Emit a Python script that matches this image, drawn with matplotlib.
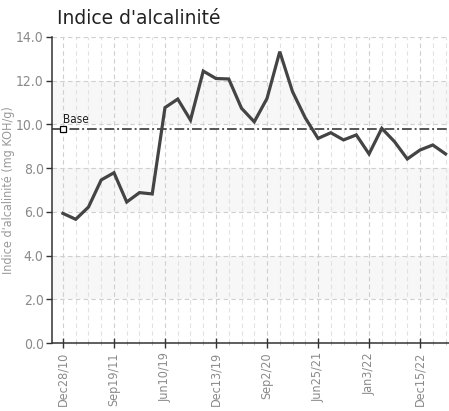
import numpy as np
import matplotlib.pyplot as plt
from matplotlib import ticker

# chart data
dates = ["Dec28/10", "Sep19/11", "Jun10/19", "Dec13/19",
         "Sep2/20", "Jun25/21", "Jan3/22", "Dec15/22"]
values = [5.93, 5.66, 6.22, 7.46, 7.79, 6.45, 6.88, 6.82,
          10.77, 11.16, 10.2, 12.44, 12.1, 12.08, 10.74, 10.12,
          11.19, 13.33, 11.5, 10.3, 9.36, 9.62, 9.29, 9.52,
          8.65, 9.82, 9.21, 8.42, 8.83, 9.06, 8.65]
base_value = 9.8
base_label = "Base"
title = "Indice d'alcalinité"
ylabel = "Indice d'alcalinité (mg KOH/g)"
label_every = 4

narrow = dict(family="DejaVu Sans", stretch="condensed")
grey = "#8a8a8a"

fig = plt.figure(figsize=(4.49, 4.11), dpi=100)
ax = fig.add_axes([52 / 449, 1 - 343 / 411, 397 / 449, 306 / 411])

idx = np.arange(len(values))

# alternating shaded bands
for lo in (2, 6, 10):
    ax.axhspan(lo, lo + 2, color="#f7f7f7", zorder=0, lw=0)

ax.plot(idx, values, color="#444444", lw=2.3, solid_joinstyle="miter", zorder=3)

# base line
ax.axhline(base_value, color="#555555", lw=1.4, ls=(0, (5, 1.5, 1, 1.5)), zorder=2)
ax.plot([0], [base_value], marker="s", ms=4, mfc="white", mec="black", mew=0.9, zorder=4)
ax.text(0, base_value + 0.15, base_label, fontsize=8.5, color="#222222",
        ha="left", va="bottom", **narrow)

ax.set_xlim(-0.86, len(values) - 1 + 0.27)
ax.set_ylim(0, 14)

ax.xaxis.set_major_locator(ticker.FixedLocator(idx[::label_every]))
ax.set_xticklabels(dates, rotation=90, fontsize=9, color=grey, **narrow)
ax.xaxis.set_minor_locator(ticker.FixedLocator(idx))
ax.set_yticks(np.arange(0, 15, 2))
ax.set_yticklabels([f"{v:.1f}" for v in np.arange(0, 15, 2)], fontsize=10,
                   color=grey, **narrow)
ax.tick_params(axis="y", direction="out", length=4, width=1,
               color="#333333", pad=2)
ax.tick_params(axis="x", which="major", direction="inout", length=7,
               width=1, color="#333333", pad=3)
ax.tick_params(axis="x", which="minor", direction="inout", length=3,
               width=0.6, color="#bbbbbb")

ax.grid(True, which="major", color="#cfcfcf", ls=(0, (4, 3)), lw=0.8, zorder=1)
ax.grid(True, which="minor", axis="x", color="#e2e2e2", ls=(0, (4, 3)), lw=0.8, zorder=1)

for s in ("top", "right"):
    ax.spines[s].set_visible(False)
for s in ("left", "bottom"):
    ax.spines[s].set_color("#333333")
    ax.spines[s].set_linewidth(1.1)

ax.set_ylabel(ylabel, fontsize=9, color="#999999", **narrow)
ax.yaxis.set_label_coords(-0.092, 0.5)
fig.text(57 / 449, 1 - 18 / 411, title, fontsize=13.5, color="#222222",
         ha="left", va="center")

fig.savefig("out.png", dpi=100)
